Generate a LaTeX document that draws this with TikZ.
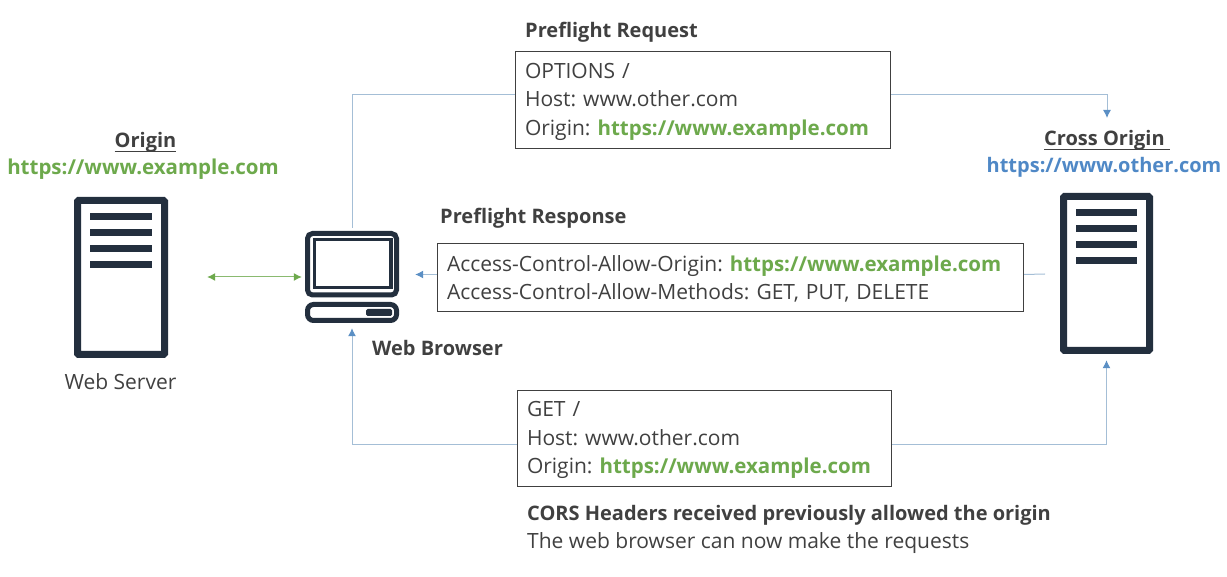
\documentclass[tikz,border=0pt]{standalone}
\usepackage{fontspec}
\setmainfont{Open Sans}
\definecolor{ink}{HTML}{232F3E}
\definecolor{txt}{HTML}{404040}
\definecolor{grn}{HTML}{6DA94C}
\definecolor{blu}{HTML}{4F88C6}
\definecolor{lnk}{HTML}{A4BED6}
\definecolor{tip}{HTML}{5B8FC4}
\newcommand{\grntxt}[1]{\textcolor{grn}{\fontsize{20.5}{28.5}\selectfont\bfseries #1}}
\newcommand{\ulbar}[2][]{\sbox0{#2}\rlap{\rule[-4.5pt]{\wd0}{1.4pt}}\box0}
\newcommand{\firstln}{\rule{0pt}{19pt}}
\usetikzlibrary{arrows.meta}
\tikzset{
  x=1pt,y=-1pt,
  lab/.style={inner sep=0pt,text=txt,font=\fontsize{21}{28.5}\selectfont\frenchspacing,anchor=base west},
  labc/.style={lab,anchor=base},
  hd/.style={lab,font=\fontsize{20}{28.5}\selectfont\bfseries\frenchspacing},
  hdc/.style={hd,anchor=base},
  msg/.style={draw=txt,line width=1pt,fill=white,text=txt,font=\fontsize{21}{28.5}\selectfont\frenchspacing,align=left,inner xsep=9.5pt,inner ysep=0pt,anchor=north west},
  flow/.style={draw=lnk,line width=1pt,-{Latex[length=8pt,width=8pt,color=tip]}},
  plainflow/.style={draw=lnk,line width=1pt},
  both/.style={draw=grn!80!white,line width=1pt,{Latex[length=8pt,width=8pt,color=grn]}-{Latex[length=8pt,width=8pt,color=grn]}},
  frame/.style={draw=ink,line width=7pt,rounded corners=1pt,fill=white},
  bar/.style={fill=ink,draw=none},
  box/.style={inner sep=0pt,draw=none},
}
\begin{document}
\begin{tikzpicture}
\useasboundingbox (0,0) rectangle (1227,577);
% icon extents as named nodes
\node[box,minimum width=94pt,minimum height=161pt] (srvL) at (121,277.5) {};
\node[box,minimum width=93pt,minimum height=161pt] (srvR) at (1106.5,273.5) {};
\node[box,minimum width=94pt,minimum height=92pt] (browser) at (352,277) {};
% left server
\draw[frame] (77.5,200.5) rectangle (164.5,354.5);
\foreach \y in {213,229,245,261}{\fill[bar] (90,\y) rectangle (152,\y+7);}
% right server
\draw[frame] (1063.5,196.5) rectangle (1149.5,350.5);
\foreach \y in {209,225,241,257}{\fill[bar] (1076,\y) rectangle (1137,\y+7);}
% browser
\draw[draw=ink,line width=5pt,rounded corners=5pt,fill=white] (307.5,233.5) rectangle (396.5,295);
\draw[draw=ink,line width=3.5pt,fill=white] (314.5,239.5) rectangle (391,287.5);
\draw[draw=ink,line width=5pt,rounded corners=6pt,fill=white] (307.5,304.5) rectangle (396.5,320.5);
\fill[ink,rounded corners=1.5pt] (366,309) rectangle (392,316);
% boxes
\node[msg,text width=356pt,minimum height=97pt] (req) at (515,51) {\firstln OPTIONS /\\Host: www.other.com\\Origin: \grntxt{https://www.example.com}};
\node[msg,text width=567pt,minimum height=68pt] (resp) at (437,243) {\firstln Access-Control-Allow-Origin: \grntxt{https://www.example.com}\\Access-Control-Allow-Methods: GET, PUT, DELETE};
\node[msg,text width=355pt,minimum height=96pt] (get) at (517,390) {\firstln GET /\\Host: www.other.com\\Origin: \grntxt{https://www.example.com}};
% anchors on box sides and free ends
\coordinate (reqA) at ([yshift=5.5pt]req.west);
\coordinate (reqB) at ([yshift=5.5pt]req.east);
\coordinate (respA) at ([yshift=3pt]resp.west);
\coordinate (respB) at ([yshift=3pt]resp.east);
\coordinate (respEnd) at (1045,274);
\coordinate (crossTip) at (1107,118);
% connectors
\draw[plainflow,shorten >=3pt] (reqA) -| (browser.north);
\draw[flow] (reqB) -| (crossTip);
\draw[plainflow] (respB) -- (respEnd);
\draw[flow,shorten >=16pt] (respA) -- (browser.east |- respA);
\draw[both,shorten <=39pt,shorten >=3pt] (srvL.east |- browser.west) -- (browser.west);
\draw[flow,shorten >=5pt] (get.west) ++(0,6) -| (browser.south);
\draw[flow,shorten >=6pt] (get.east) ++(0,6) -| (srvR.south);
% labels
\node[hdc] (t1) at (145.5,148) {\ulbar{Origin}};
\node[labc] (t2) at (143,175) {\grntxt{https://www.example.com}};
\node[labc] (t3) at (120.5,390) {Web Server};
\node[hd] (t4) at (372,356) {Web Browser};
\node[hd] (t5) at (525,38) {Preflight Request};
\node[hd] (t6) at (440,224) {Preflight Response};
\node[hdc] (t7) at (1107,146) {\ulbar{Cross Origin\ }};
\node[hdc,text=blu] (t8) at (1104,173) {https://www.other.com};
\node[hd] (t9) at (527,520) {CORS Headers received previously allowed the origin};
\node[lab] (t10) at (527,548) {The web browser can now make the requests};
\end{tikzpicture}
\end{document}
